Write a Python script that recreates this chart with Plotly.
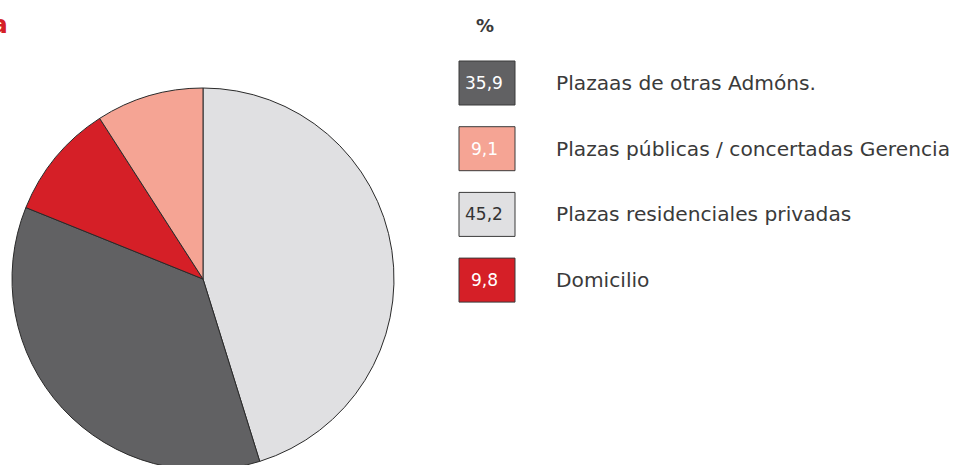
import plotly.graph_objects as go

labels = ["Plazaas de otras Admóns.", "Plazas públicas / concertadas Gerencia",
          "Plazas residenciales privadas", "Domicilio"]
values = [35.9, 9.1, 45.2, 9.8]
colors = ["#616163", "#F5A494", "#E0E0E2", "#D51F27"]
value_text_colors = ["#ffffff", "#ffffff", "#333333", "#ffffff"]
pie_order = [2, 0, 3, 1]

W, H = 971, 480
CX, CY, R = 203, 279, 191

fig = go.Figure()
fig.add_trace(go.Pie(
    labels=[labels[i] for i in pie_order],
    values=[values[i] for i in pie_order],
    marker=dict(colors=[colors[i] for i in pie_order], line=dict(color="#2a2a2a", width=1)),
    sort=False, direction="clockwise", rotation=0,
    textinfo="none", hoverinfo="label+value", showlegend=False,
    domain=dict(x=[(CX - R) / W, (CX + R) / W], y=[1 - (CY + R) / H, 1 - (CY - R) / H]),
))

font_family = "DejaVu Sans, sans-serif"
shapes = []
annotations = []
for i, (lab, v, c, tc) in enumerate(zip(labels, values, colors, value_text_colors)):
    cy = 83 + i * 65.7
    shapes.append(dict(type="rect", xref="paper", yref="paper",
                       x0=459 / W, x1=515 / W, y0=1 - (cy + 22) / H, y1=1 - (cy - 22) / H,
                       fillcolor=c, line=dict(color="#3a3a3a", width=1)))
    annotations.append(dict(xref="paper", yref="paper", x=484 / W, y=1 - cy / H,
                            text=f"{v:.1f}".replace(".", ","), showarrow=False,
                            xanchor="center", yanchor="middle",
                            font=dict(family=font_family, size=17, color=tc)))
    annotations.append(dict(xref="paper", yref="paper", x=554 / W, y=1 - cy / H,
                            text=lab, showarrow=False, xanchor="left", yanchor="middle",
                            font=dict(family=font_family, size=20.2, color="#3a3a3a")))

annotations.append(dict(xref="paper", yref="paper", x=485 / W, y=1 - 25 / H, text="<b>%</b>",
                        showarrow=False, xanchor="center", yanchor="middle",
                        font=dict(family=font_family, size=18, color="#3a3a3a")))
annotations.append(dict(xref="paper", yref="paper", x=10 / W, y=1 - 24 / H, text="<b>a</b>",
                        showarrow=False, xanchor="right", yanchor="middle",
                        font=dict(family=font_family, size=25, color="#D51F27")))

fig.update_layout(width=W, height=H, margin=dict(l=0, r=0, t=0, b=0),
                  paper_bgcolor="white", plot_bgcolor="white",
                  shapes=shapes, annotations=annotations)
fig.write_html("out.html", config={"displayModeBar": False},
               post_script="document.body.style.margin='0';")
